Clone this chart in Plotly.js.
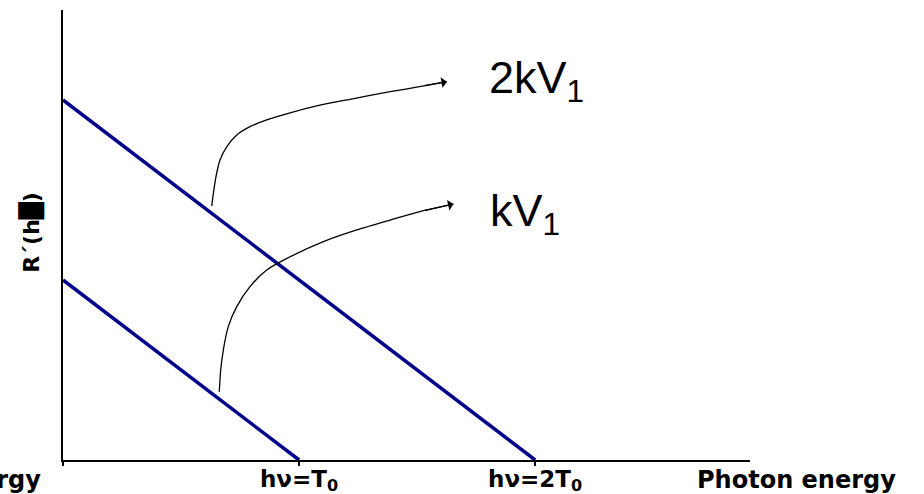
<!DOCTYPE html>
<html>
<head>
<meta charset="utf-8">
<script src="https://cdn.plot.ly/plotly-3.0.1.min.js"></script>
<style>
  html, body { margin: 0; padding: 0; background: #ffffff; }
  #chart { width: 924px; height: 494px; }
</style>
</head>
<body>
<div id="chart"></div>
<script>
// Photon energy axis, in units of T0
const tickVals = [0, 1, 2];
const tickText = ['', 'hν=T<sub>0</sub>', 'hν=2T<sub>0</sub>'];

// Straight spectra R'(hν) for the two tube voltages
const spectrumKV1X = [0, 1];
const spectrumKV1Y = [1, 0];
const spectrum2KV1X = [0, 2];
const spectrum2KV1Y = [2, 0];

// Hand-drawn pointer curves from each spectrum to its label
const pointer2KV1X = [0.630, 0.637, 0.648, 0.665, 0.694, 0.736, 0.792, 0.863, 0.962, 1.075, 1.216, 1.386, 1.527, 1.626];
const pointer2KV1Y = [1.411, 1.481, 1.574, 1.667, 1.741, 1.806, 1.852, 1.889, 1.929, 1.967, 2.004, 2.046, 2.078, 2.102];
const pointerKV1X = [0.662, 0.668, 0.679, 0.700, 0.736, 0.792, 0.863, 0.962, 1.103, 1.244, 1.386, 1.527, 1.654];
const pointerKV1Y = [0.379, 0.500, 0.611, 0.741, 0.852, 0.963, 1.056, 1.129, 1.213, 1.278, 1.333, 1.385, 1.422];

// Curve labels
const labelText = ['2kV<sub>1</sub>', 'kV<sub>1</sub>'];
const labelX = [1.795, 1.80];
const labelY = [2.11, 1.37];

const navy = '#00008b';
const boldFont = { family: 'DejaVu Sans', size: 24, color: '#000000', weight: 'bold' };

const traces = [
  { x: spectrum2KV1X, y: spectrum2KV1Y, mode: 'lines', cliponaxis: false,
    line: { color: navy, width: 3.5 }, hoverinfo: 'skip' },
  { x: spectrumKV1X, y: spectrumKV1Y, mode: 'lines', cliponaxis: false,
    line: { color: navy, width: 3.5 }, hoverinfo: 'skip' },
  { x: pointer2KV1X, y: pointer2KV1Y, mode: 'lines',
    line: { color: '#000000', width: 1.3, shape: 'spline', smoothing: 0.8 }, hoverinfo: 'skip' },
  { x: pointerKV1X, y: pointerKV1Y, mode: 'lines',
    line: { color: '#000000', width: 1.3, shape: 'spline', smoothing: 0.8 }, hoverinfo: 'skip' }
];

// Arrow tips at the end of each pointer curve
function arrowTip(xs, ys) {
  const n = xs.length;
  return {
    x: xs[n - 1], y: ys[n - 1], xref: 'x', yref: 'y',
    ax: xs[n - 2], ay: ys[n - 2], axref: 'x', ayref: 'y',
    text: '', showarrow: true, arrowhead: 1, arrowsize: 1.5, arrowwidth: 1.2,
    arrowcolor: '#000000', standoff: 0
  };
}

const annotations = [
  arrowTip(pointer2KV1X, pointer2KV1Y),
  arrowTip(pointerKV1X, pointerKV1Y),
  ...labelText.map((t, i) => ({
    x: labelX[i], y: labelY[i], xref: 'x', yref: 'y', text: t,
    xanchor: 'left', yanchor: 'middle', showarrow: false,
    font: { family: 'Liberation Sans, Arial, sans-serif', size: 45, color: '#000000' }
  })),
  // x-axis caption, right of the axis end
  { x: 1.067, y: -0.044, xref: 'paper', yref: 'paper', text: 'Photon energy',
    xanchor: 'center', yanchor: 'middle', showarrow: false, font: boldFont },
  // second caption running off the left edge
  { x: -0.029, y: -0.044, xref: 'paper', yref: 'paper', text: 'Photon energy',
    xanchor: 'right', yanchor: 'middle', showarrow: false, font: boldFont },
  { x: -0.045, y: 0.505, xref: 'paper', yref: 'paper', text: 'R´(h█)',
    textangle: -90, xanchor: 'center', yanchor: 'middle', showarrow: false,
    font: Object.assign({}, boldFont, { size: 22 }) }
];

const layout = {
  width: 924, height: 494,
  margin: { l: 63, r: 174, t: 10, b: 34, pad: 0 },
  paper_bgcolor: '#ffffff', plot_bgcolor: '#ffffff',
  showlegend: false,
  xaxis: {
    range: [0, 2.91], showgrid: false, zeroline: false,
    showline: true, linecolor: '#000000', linewidth: 2,
    ticks: 'outside', ticklen: 4, tickwidth: 2, tickcolor: '#000000',
    ticklabelstandoff: -7,
    tickvals: tickVals, ticktext: tickText,
    tickfont: Object.assign({}, boldFont, { size: 23 })
  },
  yaxis: {
    range: [0, 2.5], showgrid: false, zeroline: false,
    showline: true, linecolor: '#000000', linewidth: 2,
    ticks: '', showticklabels: false
  },
  annotations: annotations
};

Plotly.newPlot('chart', traces, layout, { displayModeBar: false, staticPlot: true });
</script>
</body>
</html>
